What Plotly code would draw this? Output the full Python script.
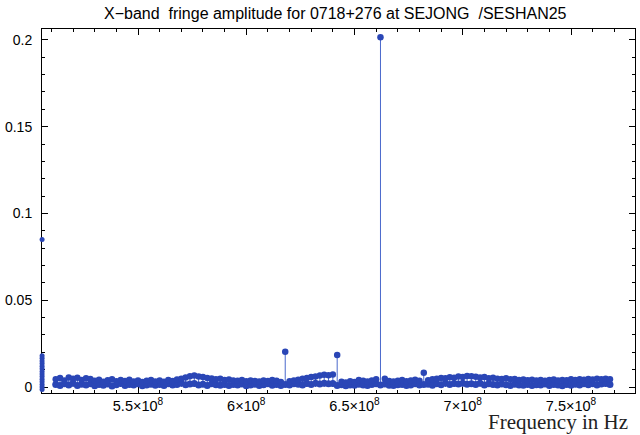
import plotly.graph_objects as go

# ---- data ----
freq_mhz = [512, 514, 516, 518, 520, 522, 524, 526,
            528, 530, 532, 534, 536, 538, 540, 542,
            544, 546, 548, 550, 552, 554, 556, 558,
            560, 562, 564, 566, 568, 570, 572, 574,
            576, 578, 580, 582, 584, 586, 588, 590,
            592, 594, 596, 598, 600, 602, 604, 606,
            608, 610, 612, 614, 616, 618, 620, 622,
            624, 626, 628, 630, 632, 634, 636, 638,
            640, 642, 644, 646, 648, 650, 652, 654,
            656, 658, 660, 662, 664, 666, 668, 670,
            672, 674, 676, 678, 680, 682, 684, 686,
            688, 690, 692, 694, 696, 698, 700, 702,
            704, 706, 708, 710, 712, 714, 716, 718,
            720, 722, 724, 726, 728, 730, 732, 734,
            736, 738, 740, 742, 744, 746, 748, 750,
            752, 754, 756, 758, 760, 762, 764, 766,
            768]

amp_hi = [0.0045, 0.0052, 0.0038, 0.0055, 0.0047, 0.0053, 0.0041, 0.0050,
          0.0046, 0.0036, 0.0042, 0.0030, 0.0039, 0.0044, 0.0033, 0.0040,
          0.0035, 0.0042, 0.0031, 0.0038, 0.0029, 0.0036, 0.0040, 0.0032,
          0.0037, 0.0030, 0.0041, 0.0035, 0.0043, 0.0048, 0.0055, 0.0062,
          0.0066, 0.0060, 0.0057, 0.0052, 0.0049, 0.0045, 0.0047, 0.0041,
          0.0043, 0.0038, 0.0036, 0.0040, 0.0033, 0.0037, 0.0035, 0.0031,
          0.0038, 0.0034, 0.0041, 0.0036, 0.0029, 0.0203, 0.0033, 0.0038,
          0.0042, 0.0047, 0.0052, 0.0058, 0.0061, 0.0066, 0.0070, 0.0068,
          0.0072, 0.0184, 0.0030, 0.0026, 0.0033, 0.0029, 0.0041, 0.0036,
          0.0032, 0.0038, 0.0044, 0.2015, 0.0047, 0.0035, 0.0031, 0.0036,
          0.0040, 0.0033, 0.0038, 0.0042, 0.0036, 0.0082, 0.0039, 0.0044,
          0.0048, 0.0052, 0.0050, 0.0056, 0.0054, 0.0060, 0.0058, 0.0064,
          0.0062, 0.0059, 0.0055, 0.0057, 0.0051, 0.0053, 0.0048, 0.0046,
          0.0050, 0.0044, 0.0046, 0.0041, 0.0043, 0.0039, 0.0042, 0.0038,
          0.0041, 0.0036, 0.0040, 0.0043, 0.0037, 0.0041, 0.0039, 0.0044,
          0.0040, 0.0045, 0.0042, 0.0046, 0.0043, 0.0048, 0.0045, 0.0047,
          0.0044]

amp_lo = [0.0015, 0.0009, 0.0018, 0.0012, 0.0021, 0.0008, 0.0016, 0.0011,
          0.0019, 0.0007, 0.0014, 0.0010, 0.0017, 0.0006, 0.0013, 0.0020,
          0.0009, 0.0015, 0.0011, 0.0018, 0.0007, 0.0012, 0.0016, 0.0010,
          0.0014, 0.0008, 0.0019, 0.0011, 0.0015, 0.0021, 0.0013, 0.0017,
          0.0020, 0.0012, 0.0016, 0.0009, 0.0018, 0.0013, 0.0010, 0.0015,
          0.0008, 0.0014, 0.0011, 0.0017, 0.0007, 0.0012, 0.0016, 0.0009,
          0.0013, 0.0018, 0.0010, 0.0014, 0.0008, 0.0015, 0.0011, 0.0019,
          0.0016, 0.0012, 0.0020, 0.0014, 0.0022, 0.0017, 0.0021, 0.0018,
          0.0020, 0.0009, 0.0013, 0.0007, 0.0012, 0.0010, 0.0016, 0.0011,
          0.0008, 0.0014, 0.0019, 0.0012, 0.0017, 0.0010, 0.0008, 0.0013,
          0.0015, 0.0009, 0.0012, 0.0018, 0.0011, 0.0014, 0.0016, 0.0010,
          0.0019, 0.0013, 0.0021, 0.0015, 0.0020, 0.0017, 0.0022, 0.0016,
          0.0019, 0.0014, 0.0021, 0.0012, 0.0018, 0.0015, 0.0011, 0.0017,
          0.0013, 0.0009, 0.0016, 0.0012, 0.0010, 0.0015, 0.0008, 0.0013,
          0.0011, 0.0017, 0.0009, 0.0014, 0.0012, 0.0007, 0.0015, 0.0010,
          0.0016, 0.0011, 0.0018, 0.0013, 0.0019, 0.0012, 0.0017, 0.0020,
          0.0014]

# cluster of points at the left edge of the band
cluster_freq_mhz = 505.7
cluster_amp = [0.085, 0.018, 0.0165, 0.015, 0.0135, 0.012, 0.0105, 0.009,
               0.0075, 0.006, 0.0045, 0.003, 0.0015, 0.0, -0.0015]

x_tickvals_hz = [5.5e8, 6.0e8, 6.5e8, 7.0e8, 7.5e8]
x_ticktext = ["5.5×10<sup>8</sup>", "6×10<sup>8</sup>", "6.5×10<sup>8</sup>",
              "7×10<sup>8</sup>", "7.5×10<sup>8</sup>"]
y_tickvals = [0, 0.05, 0.1, 0.15, 0.2]
y_ticktext = ["0", "0.05", "0.1", "0.15", "0.2"]

title_text = "X\u2212band\u00a0 fringe amplitude for 0718+276 at SEJONG\u00a0 /SESHAN25"
xlabel_text = "Frequency in Hz"

# ---- build ----
MARK = "#2a46b6"
STEM = "#4a68cc"
freq_hz = [f * 1e6 for f in freq_mhz]

stem_x, stem_y = [], []
for f, a in zip(freq_hz, amp_hi):
    stem_x += [f, f, None]
    stem_y += [0, a, None]

fig = go.Figure()
fig.add_trace(go.Scatter(x=stem_x, y=stem_y, mode="lines",
                         line=dict(color=STEM, width=1), hoverinfo="skip"))
fig.add_trace(go.Scatter(x=freq_hz, y=amp_lo, mode="markers",
                         marker=dict(color=MARK, size=7, line=dict(width=0))))
fig.add_trace(go.Scatter(x=freq_hz, y=amp_hi, mode="markers",
                         marker=dict(color=MARK, size=6.5, line=dict(width=0))))
fig.add_trace(go.Scatter(x=[cluster_freq_mhz * 1e6] * len(cluster_amp), y=cluster_amp,
                         mode="markers", cliponaxis=False,
                         marker=dict(color=MARK, size=5, line=dict(width=0))))

FONT = "Liberation Sans, Arial, sans-serif"
fig.update_layout(
    width=640, height=435,
    margin=dict(l=42, r=5, t=29, b=42),
    plot_bgcolor="white", paper_bgcolor="white",
    showlegend=False,
    font=dict(family=FONT, size=14, color="black"),
)
fig.update_xaxes(
    range=[5.0566e8, 7.7956e8], showgrid=False, zeroline=False,
    showline=True, linecolor="black", linewidth=1, mirror="ticks",
    ticks="inside", ticklen=6, tickcolor="black", layer="below traces",
    tickvals=x_tickvals_hz, ticktext=x_ticktext, ticklabelstandoff=0,
    tickfont=dict(size=14.5),
    minor=dict(ticks="inside", ticklen=3, tick0=5e8, dtick=1e7, tickcolor="black"),
)
fig.update_yaxes(
    range=[-0.00346, 0.2063], showgrid=False, zeroline=False,
    showline=True, linecolor="black", linewidth=1, mirror="ticks",
    ticks="inside", ticklen=6, tickcolor="black", layer="below traces",
    tickvals=y_tickvals, ticktext=y_ticktext, ticklabelstandoff=6,
    minor=dict(ticks="inside", ticklen=3, tick0=0, dtick=0.01, tickcolor="black"),
)
fig.add_annotation(text=title_text, xref="paper", yref="paper", x=0.495, y=1,
                   yshift=16, yanchor="middle", showarrow=False,
                   font=dict(family=FONT, size=16, color="black"))
fig.add_annotation(text=xlabel_text, xref="paper", yref="paper", x=1, y=0,
                   xanchor="right", xshift=-5, yanchor="middle", yshift=-29,
                   showarrow=False,
                   font=dict(family="Liberation Serif, serif", size=21, color="#222222"))

fig.write_html("out.html")
